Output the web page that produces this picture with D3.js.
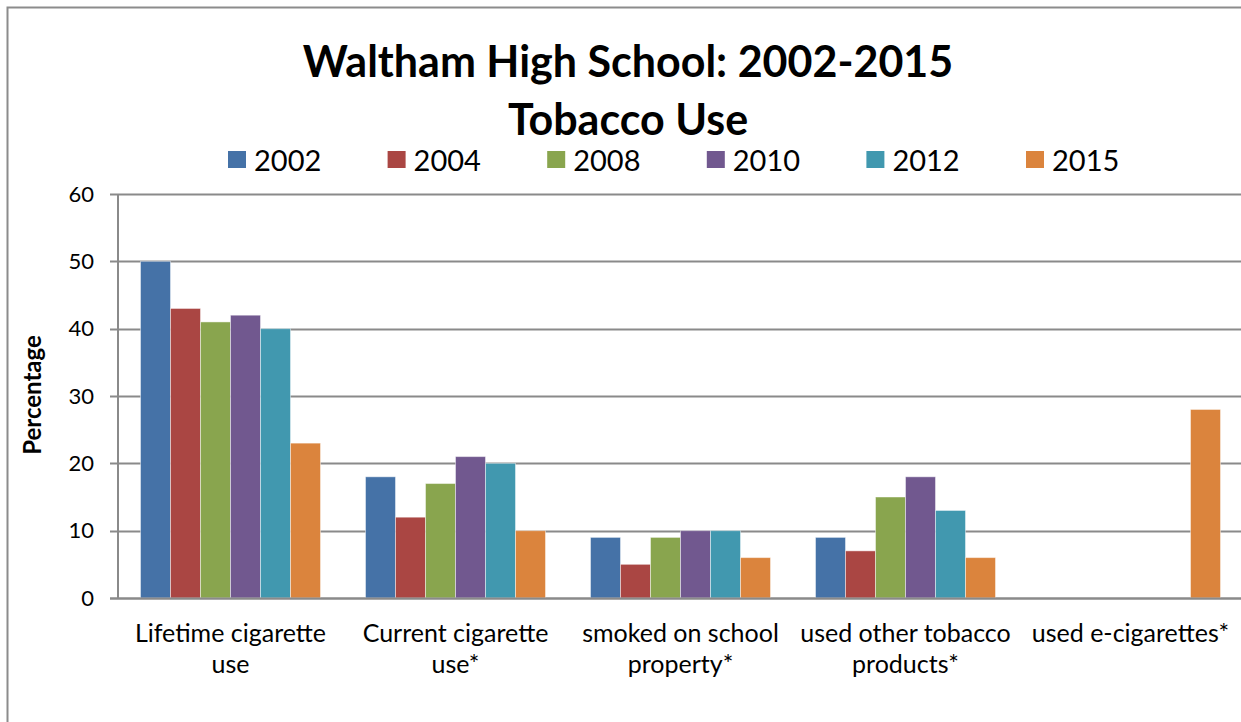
<!DOCTYPE html>
<html>
<head>
<meta charset="utf-8">
<script src="https://cdn.jsdelivr.net/npm/d3@7/dist/d3.min.js"></script>
<style>
  html, body { margin: 0; padding: 0; background: #fff; overflow: hidden; }
  svg { display: block; font-family: Lato, "Open Sans", sans-serif; }
</style>
</head>
<body>
<svg id="chart" width="1241" height="722"></svg>
<script>
// ---- data ----
const categories = [
  ["Lifetime cigarette", "use"],
  ["Current cigarette", "use*"],
  ["smoked on school", "property*"],
  ["used other tobacco", "products*"],
  ["used e-cigarettes*"]
];
const seriesNames = ["2002", "2004", "2008", "2010", "2012", "2015"];
const values2002 = [50, 18, 9, 9, null];
const values2004 = [43, 12, 5, 7, null];
const values2008 = [41, 17, 9, 15, null];
const values2010 = [42, 21, 10, 18, null];
const values2012 = [40, 20, 10, 13, null];
const values2015 = [23, 10, 6, 6, 28];
const seriesValues = [values2002, values2004, values2008, values2010, values2012, values2015];
const seriesColors = ["#4572A7", "#AA4643", "#89A54E", "#71588F", "#4198AF", "#DB843D"];
const yTicks = [0, 10, 20, 30, 40, 50, 60];
const titleLines = ["Waltham High School: 2002-2015", "Tobacco Use"];
const yAxisTitle = "Percentage";

// ---- layout ----
const svg = d3.select("#chart");
const plot = { left: 118, right: 1243, top: 194, bottom: 598 };
const gridColor = "#8a8a8a";

// outer chart border (extends beyond the visible window on right/bottom)
svg.append("rect")
  .attr("x", 7.5).attr("y", 7.5)
  .attr("width", 1400).attr("height", 900)
  .attr("fill", "#fff").attr("stroke", "#8c8c8c").attr("stroke-width", 2);

const catIdx = d3.range(categories.length);
const x0 = d3.scaleBand().domain(catIdx).range([plot.left, plot.right]).paddingInner(0).paddingOuter(0);
const x1 = d3.scaleBand().domain(d3.range(seriesNames.length))
  .range([x0.bandwidth() * 0.1, x0.bandwidth() * 0.9]).padding(0);
const y = d3.scaleLinear().domain([0, 60]).range([plot.bottom, plot.top]);

// gridlines
svg.append("g")
  .selectAll("line").data(yTicks).join("line")
  .attr("x1", plot.left - 8).attr("x2", plot.right)
  .attr("y1", d => Math.round(y(d)) + 0.5).attr("y2", d => Math.round(y(d)) + 0.5)
  .attr("stroke", gridColor).attr("stroke-width", 2);

// y axis line
svg.append("line")
  .attr("x1", plot.left).attr("x2", plot.left)
  .attr("y1", plot.top).attr("y2", plot.bottom + 1)
  .attr("stroke", gridColor).attr("stroke-width", 2);

// tick labels
svg.append("g")
  .selectAll("text").data(yTicks).join("text")
  .attr("x", 94).attr("y", d => y(d))
  .attr("dy", "0.35em")
  .attr("text-anchor", "end")
  .attr("font-size", 22).attr("fill", "#000")
  .text(d => d);

// bars
const groups = svg.append("g").selectAll("g").data(seriesNames).join("g")
  .attr("fill", (d, i) => seriesColors[i]);
groups.selectAll("rect")
  .data((d, si) => seriesValues[si].map((v, ci) => ({ v, ci, si })).filter(o => o.v != null))
  .join("rect")
  .attr("x", d => x0(d.ci) + x1(d.si))
  .attr("width", x1.bandwidth())
  .attr("y", d => y(d.v))
  .attr("height", d => y(0) - y(d.v))
  .attr("stroke", "rgba(255,255,255,0.45)").attr("stroke-width", 1);

// baseline redraw
svg.append("line")
  .attr("x1", plot.left - 8).attr("x2", plot.right)
  .attr("y1", Math.round(y(0)) + 0.5).attr("y2", Math.round(y(0)) + 0.5)
  .attr("stroke", gridColor).attr("stroke-width", 2);

// category labels
const catG = svg.append("g").selectAll("text").data(categories).join("text")
  .attr("text-anchor", "middle")
  .attr("font-size", 25).attr("fill", "#000")
  .attr("x", (d, i) => x0(i) + x0.bandwidth() / 2)
  .attr("y", 642);
catG.selectAll("tspan").data(d => d).join("tspan")
  .attr("x", function () { return d3.select(this.parentNode).attr("x"); })
  .attr("dy", (d, i) => i === 0 ? 0 : 31)
  .text(d => d);

// y axis title
svg.append("text")
  .attr("transform", "translate(41,395) rotate(-90)")
  .attr("text-anchor", "middle")
  .attr("font-size", 24).attr("font-weight", "bold").attr("fill", "#000")
  .text(yAxisTitle);

// title
svg.append("g").selectAll("text").data(titleLines).join("text")
  .attr("x", 628).attr("y", (d, i) => i === 0 ? 77 : 135)
  .attr("text-anchor", "middle")
  .attr("font-size", 43).attr("font-weight", "bold").attr("fill", "#000")
  .text(d => d);

// legend
const legend = svg.append("g").selectAll("g").data(seriesNames).join("g")
  .attr("transform", (d, i) => `translate(${228 + i * 159.6},0)`);
legend.append("rect")
  .attr("x", 0).attr("y", 151).attr("width", 18).attr("height", 17)
  .attr("fill", (d, i) => seriesColors[i]);
legend.append("text")
  .attr("x", 26).attr("y", 171)
  .attr("font-size", 29).attr("fill", "#000")
  .text(d => d);
</script>
</body>
</html>
